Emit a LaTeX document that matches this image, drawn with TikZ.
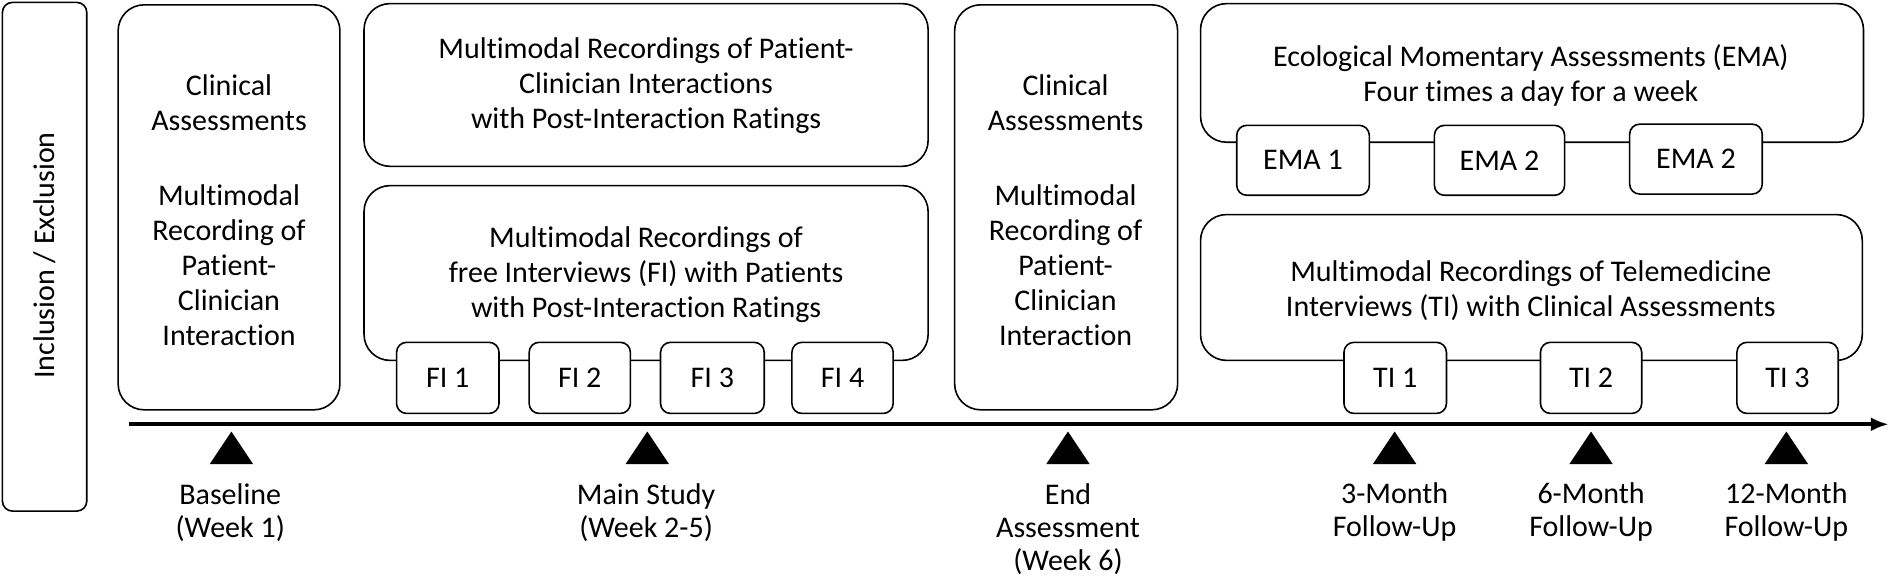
\documentclass[tikz,border=0pt]{standalone}
\usepackage{fontspec}
\setmainfont[RawFeature={-liga;-clig;-calt;-dlig}]{Carlito}
\usetikzlibrary{fit,arrows.meta}
\begin{document}
\begin{tikzpicture}[x=0.6027pt,y=-0.6027pt,
  bigbox/.style={draw,rounded corners=13pt,line width=0.8pt,fill=white,inner sep=0pt},
  sidebox/.style={draw,rounded corners=5pt,line width=0.8pt,fill=white,inner sep=0pt},
  subbox/.style={draw,rounded corners=5pt,line width=0.8pt,fill=white,inner sep=0pt,font=\fontsize{15}{17.5}\selectfont},
  txt/.style={align=center,inner sep=0pt,font=\fontsize{15}{17.5}\selectfont},
  lbl/.style={align=center,inner sep=0pt,font=\fontsize{15}{16.6}\selectfont},
  marker/.style={fill=black}]
\useasboundingbox (0,0) rectangle (1568,484);

% inclusion / exclusion
\node[sidebox, fit={(2,2) (72,424)}] (incl) {};
\node[txt, rotate=90] (incltxt) at (37,212) {Inclusion / Exclusion};

% baseline
\node[bigbox, fit={(98,4) (282,340)}] (base) {};
\node[txt] (basetxt) at (190,174) {Clinical\\Assessments\\[20pt]Multimodal\\Recording of\\Patient-\\Clinician\\Interaction};

% main study
\node[bigbox, fit={(302,3) (770,138)}] (pci) {};
\node[txt] (pcitxt) at (536,71) {Multimodal Recordings of Patient-\\Clinician Interactions\\with Post-Interaction Ratings};
\node[bigbox, fit={(302,154) (770,299)}] (fi) {};
\node[txt] (fitxt) at (536,228) {Multimodal Recordings of\\free Interviews (FI) with Patients\\with Post-Interaction Ratings};
\node[subbox, fit={(329,284) (414,343)}] (fi1) {};
\node[subbox, fit={(439,284) (523,343)}] (fi2) {};
\node[subbox, fit={(548,284) (634,343)}] (fi3) {};
\node[subbox, fit={(657,284) (741,343)}] (fi4) {};
\node[txt] at (fi1.center) {FI 1};
\node[txt] at (fi2.center) {FI 2};
\node[txt] at (fi3.center) {FI 3};
\node[txt] at (fi4.center) {FI 4};

% end assessment
\node[bigbox, fit={(792,4) (977,340)}] (endb) {};
\node[txt] (endtxt) at (884,174) {Clinical\\Assessments\\[20pt]Multimodal\\Recording of\\Patient-\\Clinician\\Interaction};

% EMA
\node[bigbox, fit={(996,3) (1546,118)}] (ema) {};
\node[txt] (ematxt) at (1270,63) {Ecological Momentary Assessments (EMA)\\Four times a day for a week};
\node[subbox, fit={(1026,104) (1136,162)}] (ema1) {};
\node[subbox, fit={(1190,104) (1298,162)}] (ema2) {};
\node[subbox, fit={(1352,103) (1462,161)}] (ema3) {};
\node[txt] at (ema1.center) {EMA 1};
\node[txt] at (ema2.center) {EMA 2};
\node[txt] at (ema3.center) {EMA 2};

% TI
\node[bigbox, fit={(996,178) (1545,299)}] (ti) {};
\node[txt] (titxt) at (1270,241) {Multimodal Recordings of Telemedicine\\Interviews (TI) with Clinical Assessments};
\node[subbox, fit={(1115,284) (1200,343)}] (ti1) {};
\node[subbox, fit={(1278,284) (1362,343)}] (ti2) {};
\node[subbox, fit={(1441,284) (1525,343)}] (ti3) {};
\node[txt] at (ti1.center) {TI 1};
\node[txt] at (ti2.center) {TI 2};
\node[txt] at (ti3.center) {TI 3};

% timeline
\coordinate (tl0) at (107,352);
\coordinate (tl1) at (1567,352);
\draw[line width=1.8pt,-{Latex[length=9pt,width=7pt]}] (tl0) -- (tl1);

\foreach \x in {192,537,886,1157,1320,1482}{
  \fill[marker] (\x,358) -- (\x+18,385) -- (\x-18,385) -- cycle;
}

% labels
\node[lbl] (l1) at (191,425) {Baseline\\(Week 1)};
\node[lbl] (l2) at (536,425) {Main Study\\(Week 2-5)};
\node[lbl] (l3) at (886,439) {End\\Assessment\\(Week 6)};
\node[lbl] (l4) at (1157,425) {3-Month\\Follow-Up};
\node[lbl] (l5) at (1320,425) {6-Month\\Follow-Up};
\node[lbl] (l6) at (1482,425) {12-Month\\Follow-Up};
\end{tikzpicture}
\end{document}
